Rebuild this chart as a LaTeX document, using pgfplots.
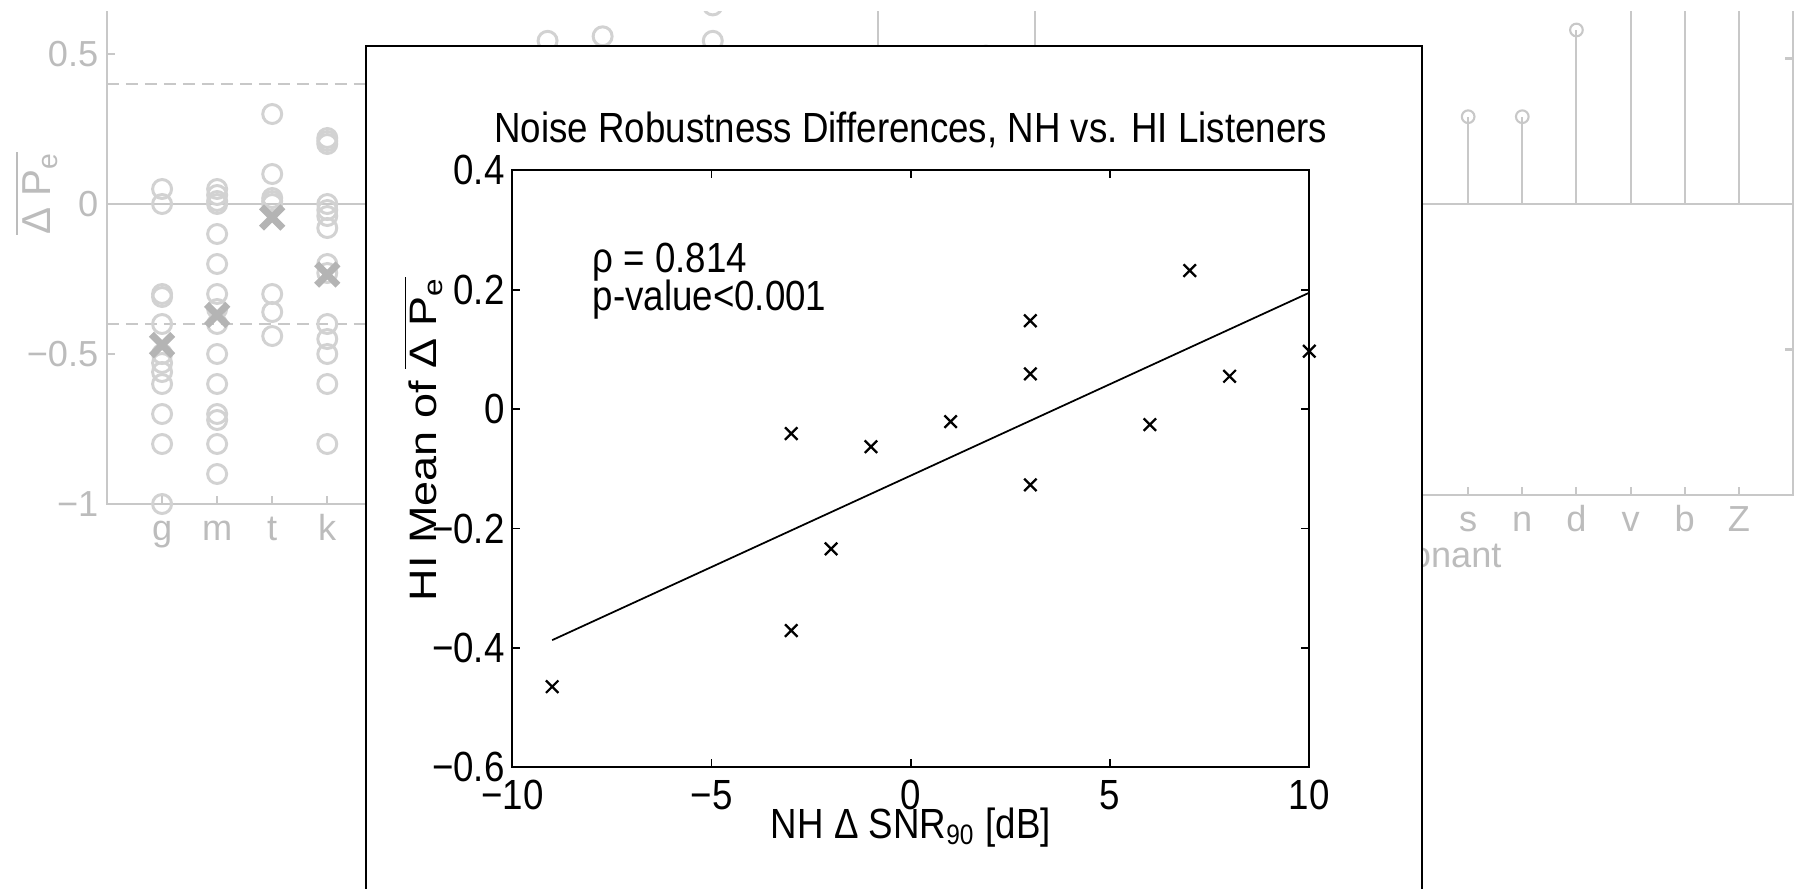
\documentclass[border=0pt]{standalone}
\usepackage{fontspec}
\setmainfont{Liberation Sans}
\newfontfamily\infam[FakeStretch=0.87]{Liberation Sans}
\usepackage{amsmath}
\usepackage{graphicx}
\usepackage{pgfplots}
\pgfplotsset{compat=1.18}
\definecolor{bgtext}{RGB}{188,188,188}
\definecolor{bgline}{RGB}{200,200,200}
\definecolor{bgcirc}{RGB}{210,210,210}
\definecolor{bgx}{RGB}{180,180,180}
\newcommand{\bgfont}{\fontsize{10.3}{12}\selectfont}
\newcommand{\infont}{\infam\fontsize{12}{13}\selectfont}

\pgfplotstableread{
x y
-9 -0.465
-3 -0.041
-3 -0.371
-2 -0.234
-1 -0.063
1 -0.021
3 0.148
3 0.059
3 -0.127
6 -0.026
7 0.232
8 0.055
10 0.097
}\scatterdata

\begin{document}
\begin{tikzpicture}
\useasboundingbox (0,0) rectangle (18.01,8.88);
\clip (0,0) rectangle (18.01,8.88);
\begin{scope}
\clip (0,0) rectangle (18.01,8.765);
% ---------- left background panel ----------
\begin{axis}[
  scale only axis, width=7.71cm, height=6cm,
  at={(1.07cm,3.84cm)}, anchor=south west,
  xmin=0, xmax=14, ymin=-1, ymax=1,
  axis line style={bgline, line width=0.6pt},
  every tick/.style={bgline, line width=0.6pt},
  tick align=inside, major tick length=0.8mm,
  xtick={1,...,13}, xticklabels={g,m,t,k,{},{},{},{},{},{},{},{},{}},
  ytick={-1,-0.5,0,0.5},
  yticklabels={−1,−0.5,0,0.5},
  ticklabel style={font=\bgfont, text=bgtext},
  xticklabel style={anchor=base, yshift=-0.36cm},
  yticklabel style={anchor=east, inner sep=0pt, xshift=-0.08cm},
  xlabel={Consonant},
  ylabel={$\overline{\text{Δ P}_{\text{e}}}$},
  xlabel style={font=\bgfont, text=bgtext, at={(axis description cs:0.5,0)}, anchor=base, yshift=-0.72cm},
  ylabel style={font=\fontsize{11.5}{13}\selectfont, text=bgtext, at={(axis description cs:-0.092,0.518)}, anchor=center},
  clip=false,
]
\addplot[bgline, line width=0.6pt] coordinates {(0,0) (14,0)};
\addplot[bgline, line width=0.6pt, dash pattern=on 3.4pt off 2pt] coordinates {(0,0.4) (14,0.4)};
\addplot[bgline, line width=0.6pt, dash pattern=on 3.4pt off 2pt] coordinates {(0,-0.4) (14,-0.4)};
\addplot[only marks, mark=o, mark size=2.7pt, bgcirc, mark options={line width=0.85pt}] coordinates {
(1,0.05) (1,0) (1,-0.3) (1,-0.31) (1,-0.4) (1,-0.5) (1,-0.53) (1,-0.56) (1,-0.6) (1,-0.7) (1,-0.8) (1,-1.0)
(2,0.05) (2,0.03) (2,0.01) (2,0) (2,-0.1) (2,-0.2) (2,-0.3) (2,-0.35) (2,-0.4) (2,-0.5) (2,-0.6) (2,-0.7) (2,-0.72) (2,-0.8) (2,-0.9)
(3,0.3) (3,0.1) (3,0.02) (3,0.01) (3,0) (3,-0.3) (3,-0.36) (3,-0.44)
(4,0.22) (4,0.21) (4,0.2) (4,0) (4,-0.02) (4,-0.04) (4,-0.08) (4,-0.2) (4,-0.23) (4,-0.4) (4,-0.45) (4,-0.5) (4,-0.6) (4,-0.8)
(8,0.544) (9,0.559) (11,0.544) (11,0.662)
};
\addplot[only marks, mark=x, mark size=4.3pt, bgx, mark options={line width=2pt}] coordinates {
(1,-0.47) (2,-0.37) (3,-0.045) (4,-0.235)
};
\end{axis}
% ---------- right background panel ----------
\begin{axis}[
  scale only axis, width=7.58cm, height=5.82cm,
  at={(10.35cm,3.93cm)}, anchor=south west,
  xmin=0, xmax=14, ymin=-1, ymax=1,
  axis line style={bgline, line width=0.6pt},
  every tick/.style={bgline, line width=0.6pt},
  tick align=inside, major tick length=0.8mm,
  xtick={1,...,13}, xticklabels={{},{},{},{},{},{},{},s,n,d,v,b,Z},
  ytick={-1,-0.5,0,0.5},
  yticklabels={−1,−0.5,0,0.5},
  ticklabel style={font=\bgfont, text=bgtext},
  xticklabel style={anchor=base, yshift=-0.36cm},
  yticklabel style={anchor=east, inner sep=0pt, xshift=-0.08cm},
  xlabel={Consonant},
  xlabel style={font=\bgfont, text=bgtext, at={(axis description cs:0.5,0)}, anchor=base, yshift=-0.72cm},
  clip=false,
]
\addplot[bgline, line width=0.6pt] coordinates {(0,0) (14,0)};
\addplot[ycomb, bgline, line width=0.6pt, mark=o, mark size=1.8pt] coordinates {
(8,0.30) (9,0.30) (10,0.598)
};
\addplot[ycomb, bgline, line width=0.6pt] coordinates {
(11,0.9) (12,0.9) (13,0.9)
};
\end{axis}
\end{scope}
% ---------- inset ----------
\draw[black, fill=white, line width=0.7pt] (3.66,-1) rectangle (14.22,8.42);
\begin{axis}[
  scale only axis, width=7.97cm, height=5.97cm,
  at={(5.123cm,1.207cm)}, anchor=south west,
  xmin=-10, xmax=10, ymin=-0.6, ymax=0.4,
  axis line style={black, line width=0.5pt},
  every tick/.style={black, line width=0.5pt},
  tick align=inside, major tick length=0.8mm,
  xtick={-10,-5,0,5,10}, xticklabels={−10,−5,0,5,10},
  ytick={-0.6,-0.4,-0.2,0,0.2,0.4},
  yticklabels={−0.6,−0.4,−0.2,0,0.2,0.4},
  ticklabel style={font=\infont},
  xticklabel style={anchor=base, yshift=-0.42cm},
  yticklabel style={anchor=east, inner sep=0pt, xshift=-0.07cm},
  every axis title shift=0pt,
  title={Noise Robustness Differences, NH vs. HI Listeners},
  title style={font=\infont, at={(axis description cs:0.5,1)}, anchor=base, yshift=0.28cm},
  xlabel={NH Δ SNR\textsubscript{90} [dB]},
  ylabel={\scalebox{1}[0.85]{HI Mean of $\overline{\text{Δ P}_{\text{e}}}$}},
  xlabel style={font=\infont, at={(axis description cs:0.5,0)}, anchor=base, yshift=-0.71cm},
  ylabel style={font=\fontsize{12.8}{14}\selectfont, at={(axis description cs:-0.112,0.55)}, anchor=center},
  clip=false,
]
\addplot[black, line width=0.5pt] coordinates {(-9,-0.387) (10,0.195)};
\addplot[only marks, mark=x, mark size=2.5pt, black, mark options={line width=0.65pt}] table[x=x, y=y] {\scatterdata};
\node[anchor=base west, font=\infont, inner sep=0pt] at (axis cs:-8,0.228) {ρ = 0.814};
\node[anchor=base west, font=\infont, inner sep=0pt] at (axis cs:-8,0.166) {p-value<0.001};
\end{axis}
\end{tikzpicture}
\end{document}
